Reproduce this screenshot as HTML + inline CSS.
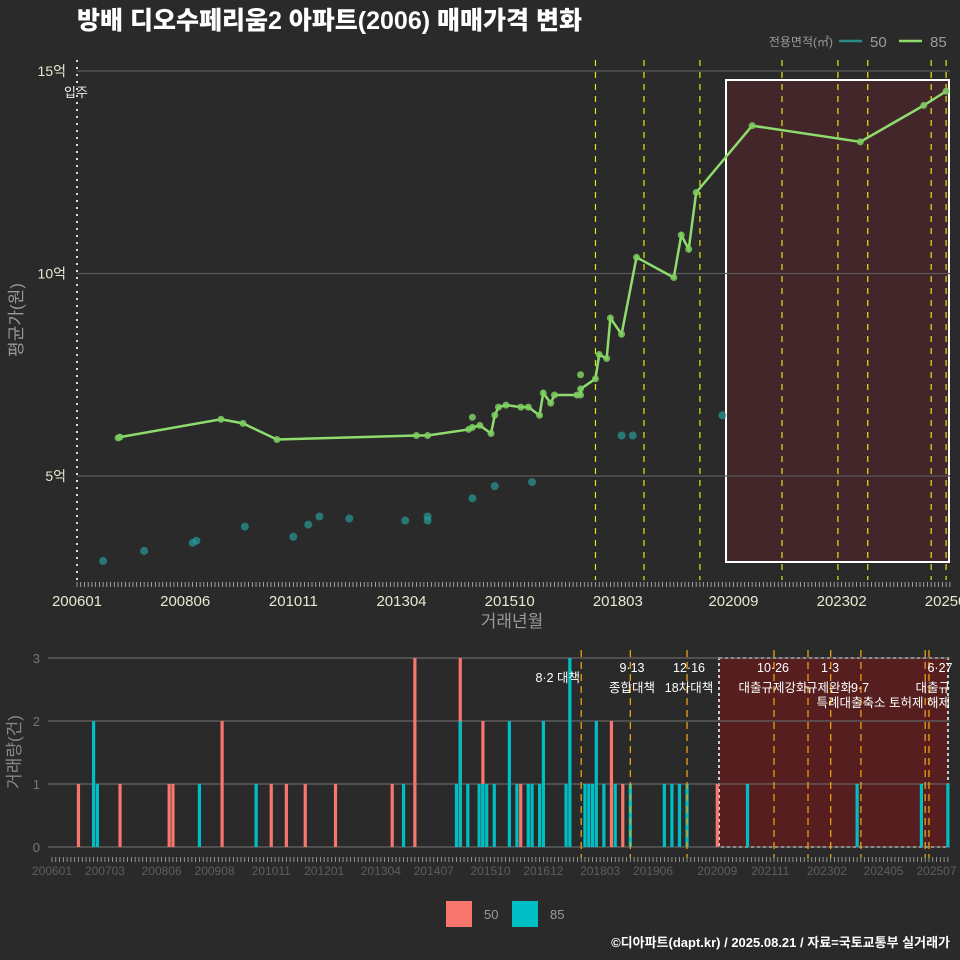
<!DOCTYPE html>
<html><head><meta charset="utf-8">
<style>
html,body{margin:0;padding:0;background:#2a2a2a;}
svg{display:block;font-family:"Liberation Sans","Noto Sans CJK KR",sans-serif;}
</style></head>
<body>
<svg id="c" width="960" height="960" viewBox="0 0 960 960">
<rect width="960" height="960" fill="#2a2a2a"/>
<text x="77" y="29" font-size="25" font-weight="900" fill="#ffffff">방배 디오수페리움2 아파트(2006) 매매가격 변화</text>
<g>
<text x="833" y="46" font-size="12" fill="#9a9a9a" text-anchor="end">전용면적(㎡)</text>
<line x1="839" y1="41" x2="862" y2="41" stroke="#2a8a8a" stroke-width="2.5"/>
<text x="870" y="47" font-size="15" fill="#9a9a9a">50</text>
<line x1="899" y1="41" x2="922" y2="41" stroke="#8fdc6e" stroke-width="2.5"/>
<text x="930" y="47" font-size="15" fill="#9a9a9a">85</text>
</g>
<g id="topG"></g>
<g id="botG"></g>
<g>
<rect x="446" y="901" width="26" height="26" fill="#f8766d"/>
<text x="484" y="919" font-size="13" fill="#9a9a9a">50</text>
<rect x="512" y="901" width="26" height="26" fill="#00bfc4"/>
<text x="550" y="919" font-size="13" fill="#9a9a9a">85</text>
</g>
<text x="950" y="947" font-size="13" font-weight="bold" fill="#ffffff" text-anchor="end">©디아파트(dapt.kr) / 2025.08.21 / 자료=국토교통부 실거래가</text>
</svg>
<script>
const priceMonths85 = [11,11.5,38.6,44.5,53.6,91,94,105,106,108,111,112,113,115,119,121,124,125,127,128,134,135,135,139,140,142,143,146,150,160,162,164,166,181,210,227,233];
const priceValues85 = [5.94,5.96,6.4,6.3,5.9,6.0,6.0,6.15,6.2,6.25,6.05,6.5,6.7,6.75,6.7,6.7,6.5,7.05,6.8,7.0,7.0,7.0,7.15,7.4,8.0,7.9,8.9,8.5,10.4,9.9,10.95,10.6,12.0,13.65,13.25,14.15,14.5];
const extraMonths85 = [106,135];
const extraValues85 = [6.45,7.5];
const priceMonths50 = [7,18,31,32,45,58,62,65,73,88,94,94,106,112,122,146,149,173];
const priceValues50 = [2.9,3.15,3.35,3.4,3.75,3.5,3.8,4.0,3.95,3.9,4.0,3.9,4.45,4.75,4.85,6.0,6.0,6.5];
const policyMonthsTop = [139,152,167,189,204,212,229,233];
const yTicks = [5,10,15];
const yTickLabels = ["5억","10억","15억"];
const xTickMonths = [0,29,58,87,116,145,176,205,234];
const xTickLabels = ["200601","200806","201011","201304","201510","201803","202009","202302","202507"];
const volMonths50 = [7,18,31,32,45,58,62,67,75,90,96,108,114,124,148,151,176];
const volCounts50 = [1,1,1,1,2,1,1,1,1,1,3,3,2,1,2,1,1];
const volMonths85 = [11,12,39,54,93,107,108,110,113,114,115,117,121,123,126,127,129,130,136,137,141,142,143,144,146,149,153,162,164,166,168,184,213,230,237];
const volCounts85 = [2,1,1,1,1,1,2,1,1,1,1,1,2,1,1,1,1,2,1,3,1,1,1,2,1,1,1,1,1,1,1,1,1,1,1];
const policyMonthsBot = [140,153,168,191,200,206,214,231,232];
const volTicks = [0,1,2,3];
const volXTickMonths = [0,14,29,43,58,72,87,101,116,130,145,159,176,190,205,220,234];
const volXTickLabels = ["200601","200703","200806","200908","201011","201201","201304","201407","201510","201612","201803","201906","202009","202111","202302","202405","202507"];

const NS="http://www.w3.org/2000/svg";
function mk(parent,tag,attrs,name,text){const e=document.createElementNS(NS,tag);for(const k in attrs)e.setAttribute(k,attrs[k]);


if(text!==undefined)e.textContent=text;parent.appendChild(e);return e;}

const topG=document.getElementById('topG');
const tx=m=>77+m*3.73;
const ty=v=>476-(v-5)*40.5;
mk(topG,'rect',{x:726,y:80,width:223,height:482,fill:'#5a2228','fill-opacity':0.5,stroke:'#ffffff','stroke-width':2},'highlight-box');
yTicks.forEach((v,i)=>{
  mk(topG,'line',{x1:77,x2:950,y1:ty(v),y2:ty(v),stroke:'#5a5a5a','stroke-width':1.3},'y-gridline');
  mk(topG,'text',{x:66,y:ty(v)+5,'font-size':14,fill:'#e8e8d0','text-anchor':'end'},'y-tick-label',yTickLabels[i]);
});
mk(topG,'line',{x1:77,x2:77,y1:60,y2:585,stroke:'#dddddd','stroke-width':2,'stroke-dasharray':'2,5'},'move-in-line');
mk(topG,'text',{x:76,y:97,'font-size':13,fill:'#eeeeee','text-anchor':'middle'},'move-in-label','입주');
policyMonthsTop.forEach(m=>mk(topG,'line',{x1:tx(m),x2:tx(m),y1:60,y2:580,stroke:'#e5e510','stroke-width':1.2,'stroke-dasharray':'6,6'},'policy-line'));
for(let m=0;m<=234;m++)mk(topG,'line',{x1:tx(m),x2:tx(m),y1:582,y2:587,stroke:'#bbbbbb','stroke-width':0.8},'x-minor-tick');
xTickMonths.forEach((m,i)=>mk(topG,'text',{x:tx(m),y:606,'font-size':15,fill:'#e8e8d0','text-anchor':'middle'},'x-tick-label',xTickLabels[i]));
mk(topG,'text',{x:512,y:627,'font-size':17,fill:'#999999','text-anchor':'middle'},'x-axis-title','거래년월');
mk(topG,'text',{x:22,y:320,'font-size':17,fill:'#999999','text-anchor':'middle',transform:'rotate(-90 22 320)'},'y-axis-title','평균가(원)');
priceMonths50.forEach((m,i)=>mk(topG,'circle',{cx:tx(m),cy:ty(priceValues50[i]),r:4,fill:'#2a9a9a','fill-opacity':0.7},'point-50'));
mk(topG,'polyline',{points:priceMonths85.map((m,i)=>tx(m)+','+ty(priceValues85[i])).join(' '),fill:'none',stroke:'#8fdc6e','stroke-width':2.5},'line-85');
priceMonths85.forEach((m,i)=>mk(topG,'circle',{cx:tx(m),cy:ty(priceValues85[i]),r:3.5,fill:'#7dcf60','fill-opacity':0.85},'point-85'));
extraMonths85.forEach((m,i)=>mk(topG,'circle',{cx:tx(m),cy:ty(extraValues85[i]),r:3.5,fill:'#7dcf60','fill-opacity':0.85},'point-85'));

const botG=document.getElementById('botG');
const bx=m=>52+m*3.78;
const by=v=>847-v*63;
mk(botG,'rect',{x:719,y:658,width:229,height:189,fill:'#6a1a1a','fill-opacity':0.7,stroke:'#cccccc','stroke-width':2,'stroke-dasharray':'3,3'},'highlight-box-bottom');
volTicks.forEach(v=>{
  mk(botG,'line',{x1:48,x2:950,y1:by(v),y2:by(v),stroke:'#666666','stroke-width':1.2},'y-gridline-bottom');
  mk(botG,'text',{x:40,y:by(v)+5,'font-size':13,fill:'#777777','text-anchor':'end'},'y-tick-label-bottom',String(v));
});
mk(botG,'text',{x:20,y:752,'font-size':17,fill:'#888888','text-anchor':'middle',transform:'rotate(-90 20 752)'},'y-axis-title-bottom','거래량(건)');
volMonths50.forEach((m,i)=>mk(botG,'rect',{x:bx(m)-1.6,y:by(volCounts50[i]),width:3.2,height:volCounts50[i]*63,fill:'#f8766d'},'bar-50'));
volMonths85.forEach((m,i)=>mk(botG,'rect',{x:bx(m)-1.6,y:by(volCounts85[i]),width:3.2,height:volCounts85[i]*63,fill:'#00bfc4'},'bar-85'));
policyMonthsBot.forEach(m=>mk(botG,'line',{x1:bx(m),x2:bx(m),y1:650,y2:858,stroke:'#e8a010','stroke-width':1.3,'stroke-dasharray':'7,5'},'policy-line-bottom'));
for(let m=0;m<=237;m++)mk(botG,'line',{x1:bx(m),x2:bx(m),y1:857,y2:862,stroke:'#aaaaaa','stroke-width':0.8},'x-minor-tick-bottom');
volXTickMonths.forEach((m,i)=>mk(botG,'text',{x:bx(m),y:875,'font-size':12,fill:'#5e5e5e','text-anchor':'middle'},'x-tick-label-bottom',volXTickLabels[i]));
const ann=[[580,682,'end','8·2 대책'],[632,672,'middle','9·13'],[632,692,'middle','종합대책'],[689,672,'middle','12·16'],[689,692,'middle','18차대책'],[773,672,'middle','10·26'],[773,692,'middle','대출규제강화'],[830,672,'middle','1·3'],[829,692,'middle','규제완화'],[860,692,'middle','9·7'],[950,707,'end','특례대출축소 토허제 해제'],[940,672,'middle','6·27'],[950,692,'end','대출규']];
ann.forEach(a=>mk(botG,'text',{x:a[0],y:a[1],'font-size':12.5,fill:'#ffffff','text-anchor':a[2]},'policy-annotation',a[3]));
</script>
</body></html>
